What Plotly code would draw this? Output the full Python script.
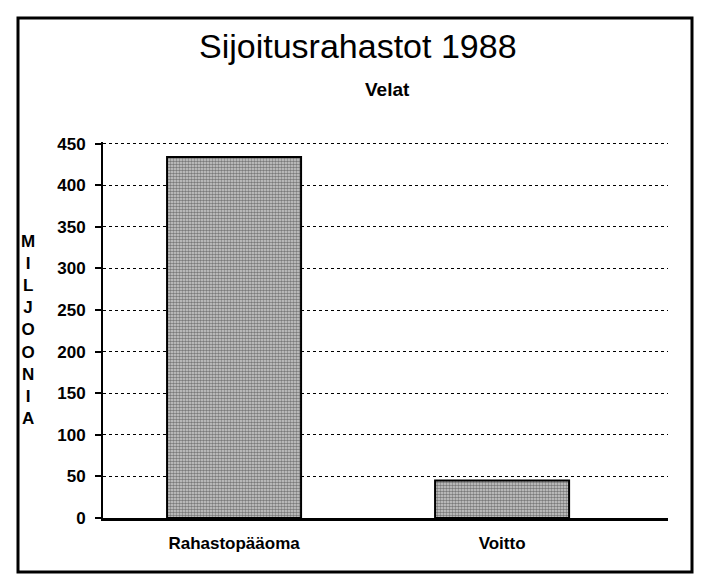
import plotly.graph_objects as go

categories = ["Rahastopääoma", "Voitto"]
values = [434, 45]
y_ticks = [0, 50, 100, 150, 200, 250, 300, 350, 400, 450]
title_text = "Sijoitusrahastot 1988"
subtitle_text = "Velat"
y_title = "MILJOONIA"

W, H = 712, 586
OFF = 8  # page body margin
L, T = 103 - OFF, 142 - OFF
plot_right, plot_bottom = 668 - OFF, 518 - OFF
R, B = W - plot_right, H - plot_bottom
pw, ph = W - L - R, H - T - B

FONT = "Liberation Sans, Arial, Helvetica, sans-serif"
x_pos = list(range(len(categories)))

fig = go.Figure()
fig.add_trace(go.Bar(
    x=x_pos, y=values, width=0.5,
    marker=dict(
        color="#aaaaaa",
        line=dict(color="black", width=2),
        pattern=dict(shape=".", size=3, solidity=0.55, fgcolor="#262626", bgcolor="#cfcfcf"),
    ),
    hoverinfo="skip",
))

def px_x(p):
    return (p - OFF - L) / pw

def px_y(p):
    return (H - B - (p - OFF)) / ph

fig.update_layout(
    width=W, height=H,
    margin=dict(l=L, r=R, t=T, b=B, pad=0),
    paper_bgcolor="white", plot_bgcolor="white",
    showlegend=False,
    font=dict(family=FONT, color="black"),
    xaxis=dict(
        tickmode="array", tickvals=x_pos, ticktext=categories,
        range=[-0.489, 1.619], showgrid=False, zeroline=False,
        showline=True, linecolor="black", linewidth=3,
        ticks="", tickfont=dict(size=17, family=FONT, weight="bold"),
        ticklabelstandoff=8,
    ),
    yaxis=dict(
        range=[0, 452], tickmode="array", tickvals=y_ticks,
        ticktext=[str(v) for v in y_ticks],
        showgrid=True, gridcolor="black", griddash="dot", gridwidth=1.3,
        zeroline=False, showline=True, linecolor="black", linewidth=2,
        ticks="outside", ticklen=6, tickwidth=2, tickcolor="black",
        tickfont=dict(size=17, family=FONT, weight="bold"),
        ticklabelstandoff=6,
    ),
    shapes=[dict(
        type="rect", xref="paper", yref="paper",
        x0=px_x(18), x1=px_x(692), y0=px_y(572), y1=px_y(18),
        line=dict(color="black", width=3), fillcolor="rgba(0,0,0,0)", layer="below",
    )],
    annotations=[
        dict(text=title_text, xref="paper", yref="paper", x=px_x(358), y=px_y(46),
             showarrow=False, font=dict(size=34, family=FONT),
             xanchor="center", yanchor="middle"),
        dict(text=subtitle_text, xref="paper", yref="paper", x=px_x(387), y=px_y(89),
             showarrow=False, font=dict(size=19, family=FONT, weight="bold"),
             xanchor="center", yanchor="middle"),
        dict(text="<br>".join(y_title), xref="paper", yref="paper",
             x=px_x(28), y=px_y(330), showarrow=False,
             font=dict(size=17, family=FONT, weight="bold"),
             xanchor="center", yanchor="middle", align="center"),
    ],
)

fig.write_html("out.html")
